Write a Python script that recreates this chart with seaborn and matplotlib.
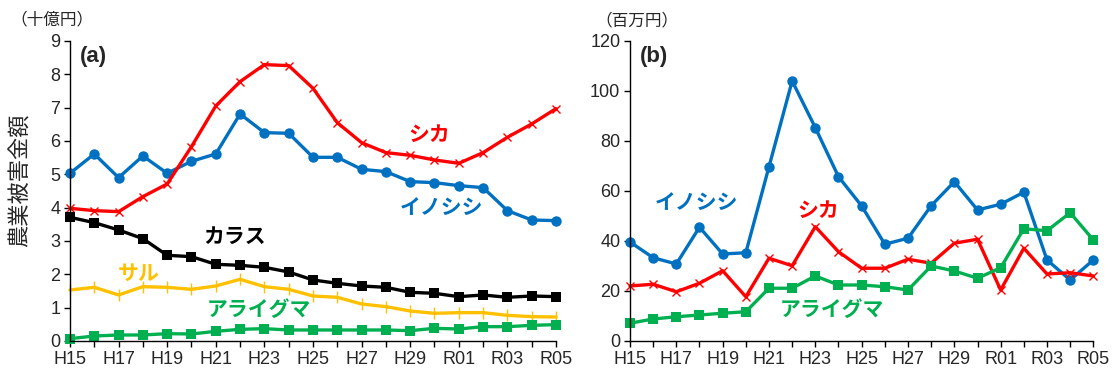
import numpy as np
import pandas as pd
import matplotlib
matplotlib.use("Agg")
import matplotlib.pyplot as plt
import seaborn as sns

# fiscal years
years = ["H15", "H16", "H17", "H18", "H19", "H20", "H21", "H22", "H23", "H24",
         "H25", "H26", "H27", "H28", "H29", "H30", "R01", "R02", "R03", "R04", "R05"]

# (a) whole country, billion yen
a_inoshishi = [5.03, 5.61, 4.90, 5.55, 5.03, 5.39, 5.61, 6.81, 6.25, 6.23,
               5.51, 5.51, 5.15, 5.08, 4.78, 4.75, 4.66, 4.60, 3.91, 3.63, 3.61]
a_shika = [3.98, 3.91, 3.88, 4.33, 4.71, 5.83, 7.05, 7.78, 8.29, 8.26,
           7.58, 6.55, 5.95, 5.65, 5.57, 5.43, 5.33, 5.65, 6.11, 6.51, 6.97]
a_karasu = [3.71, 3.55, 3.33, 3.07, 2.57, 2.53, 2.30, 2.27, 2.21, 2.07,
            1.83, 1.73, 1.65, 1.61, 1.46, 1.43, 1.33, 1.38, 1.31, 1.35, 1.33]
a_saru = [1.53, 1.61, 1.38, 1.63, 1.61, 1.55, 1.65, 1.85, 1.63, 1.55,
          1.35, 1.31, 1.11, 1.03, 0.90, 0.83, 0.85, 0.85, 0.77, 0.73, 0.72]
a_araiguma = [0.07, 0.15, 0.18, 0.18, 0.22, 0.21, 0.29, 0.35, 0.37, 0.33,
              0.33, 0.33, 0.33, 0.33, 0.31, 0.38, 0.36, 0.43, 0.43, 0.47, 0.49]

# (b) million yen
b_inoshishi = [39.6, 33.3, 30.8, 45.5, 34.8, 35.3, 69.7, 104.0, 85.3, 65.7,
               54.0, 38.7, 41.1, 54.1, 63.7, 52.4, 54.7, 59.5, 32.4, 24.4, 32.4]
b_shika = [22.0, 22.7, 19.7, 23.1, 28.1, 17.7, 33.1, 30.1, 45.7, 35.7,
           29.1, 29.1, 32.7, 31.1, 39.1, 40.7, 20.4, 37.1, 26.8, 27.3, 26.0]
b_araiguma = [7.1, 8.8, 9.7, 10.4, 11.1, 11.7, 21.1, 21.1, 26.0, 22.4,
              22.4, 21.7, 20.4, 30.0, 28.0, 25.1, 29.3, 44.9, 44.1, 51.3, 40.4]

BLUE = "#0070C0"
RED = "#FF0000"
BLACK = "#000000"
YELLOW = "#FFC000"
GREEN = "#00B050"

sns.set_style("ticks")
plt.rcParams["font.family"] = ["Liberation Sans", "Noto Sans CJK JP", "DejaVu Sans"]

x = np.arange(len(years))

fig = plt.figure(figsize=(11.16, 3.76), dpi=100)
ax1 = fig.add_axes([0.0627, 0.0931, 0.4355, 0.798])
ax2 = fig.add_axes([0.5645, 0.0931, 0.4152, 0.798])


def draw(ax, vals, color, marker, ms, mew=0):
    sns.lineplot(x=x, y=vals, ax=ax, color=color, lw=2.4, marker=marker,
                 markersize=ms, markeredgewidth=mew, markeredgecolor=color,
                 markerfacecolor=color)


draw(ax1, a_inoshishi, BLUE, "o", 7.5)
draw(ax1, a_shika, RED, "x", 6, 1.0)
draw(ax1, a_karasu, BLACK, "s", 7)
draw(ax1, a_saru, YELLOW, "|", 9, 1.0)
draw(ax1, a_araiguma, GREEN, "s", 7)

draw(ax2, b_inoshishi, BLUE, "o", 7.5)
draw(ax2, b_shika, RED, "x", 6, 1.0)
draw(ax2, b_araiguma, GREEN, "s", 7)

ax1.set_ylim(0, 9)
ax1.set_yticks(range(0, 10))
ax2.set_ylim(0, 120)
ax2.set_yticks(range(0, 121, 20))

for ax in (ax1, ax2):
    ax.set_xlim(0, len(years) - 1)
    ax.set_xticks(x)
    ax.set_xticklabels([y if i % 2 == 0 else "" for i, y in enumerate(years)])
    ax.tick_params(axis="both", labelsize=13, length=4, width=1, color="black",
                   direction="out", pad=3)
    sns.despine(ax=ax)
    for s in ("left", "bottom"):
        ax.spines[s].set_linewidth(1.0)
        ax.spines[s].set_color("black")
    ax.set_xlabel("")
    ax.set_ylabel("")
    for ln in ax.lines:
        ln.set_clip_on(False)

ax1.set_ylabel("農業被害金額", fontsize=16)
ax1.yaxis.set_label_coords(-0.078, 0.537)

ax1.text(0.02, 0.947, "(a)", transform=ax1.transAxes, fontsize=16,
         fontweight="bold", va="center", ha="left")
ax2.text(0.022, 0.947, "(b)", transform=ax2.transAxes, fontsize=16,
         fontweight="bold", va="center", ha="left")

fig.text(10 / 1116, 1 - 19 / 376, "（十億円）", fontsize=12, va="center", ha="left")
fig.text(595 / 1116, 1 - 20 / 376, "（百万円）", fontsize=12, va="center", ha="left")


def label(txt, px, py, color):
    fig.text(px / 1116, 1 - py / 376, txt, color=color, fontsize=15,
             fontweight="bold", va="center", ha="left")


label("シカ", 408, 135, RED)
label("イノシシ", 400, 208, BLUE)
label("カラス", 203, 237, BLACK)
label("サル", 118, 274, YELLOW)
label("アライグマ", 207, 310, GREEN)

label("イノシシ", 655, 203, BLUE)
label("シカ", 797, 211, RED)
label("アライグマ", 780, 310, GREEN)

fig.savefig("out.png", dpi=100)
